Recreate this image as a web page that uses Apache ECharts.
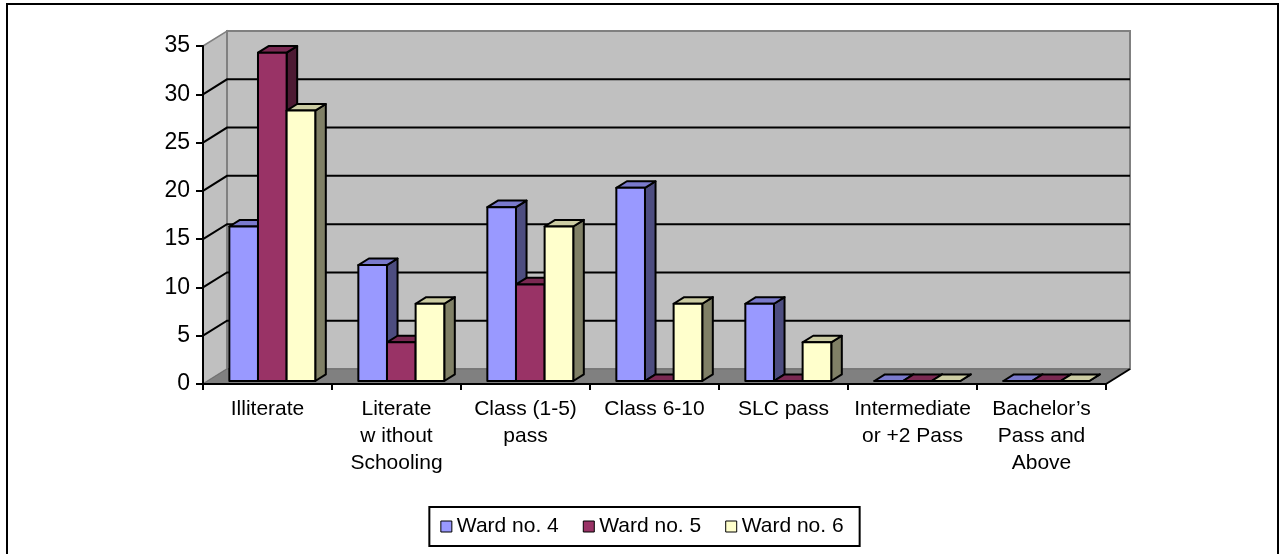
<!DOCTYPE html>
<html>
<head>
<meta charset="utf-8">
<script src="https://cdn.jsdelivr.net/npm/echarts@6/dist/echarts.min.js"></script>
<style>
  html, body { margin: 0; padding: 0; background: #fff; }
  #chart { width: 1284px; height: 554px; }
</style>
</head>
<body>
<div id="chart"></div>
<script>
// Education level by ward
const categories = [
  'Illiterate',
  'Literate\nw ithout\nSchooling',
  'Class (1-5)\npass',
  'Class 6-10',
  'SLC pass',
  'Intermediate\nor +2 Pass',
  'Bachelor\u2019s\nPass and\nAbove'
];
const seriesNames = ['Ward no. 4', 'Ward no. 5', 'Ward no. 6'];
const ward4 = [16, 12, 18, 20, 8, 0, 0];
const ward5 = [34, 4, 10, 0, 0, 0, 0];
const ward6 = [28, 8, 16, 8, 4, 0, 0];
const yMin = 0, yMax = 35, yStep = 5;

// Face colours: front, top, side
const palette = [
  { front: '#9999FF', top: '#7A7ACC', side: '#4D4D80' },
  { front: '#993366', top: '#7A2952', side: '#4D1A33' },
  { front: '#FFFFCC', top: '#CCCCA3', side: '#808066' }
];

// Depth of the 3-D box (pixels) and where bars sit inside it
const DX = 24, DY = -15;
const Z0 = 0.2, Z1 = 0.64;
const BAR_FRAC = 0.222;
const FONT = '"Liberation Sans", Arial, sans-serif';

function frameRender(params, api) {
  const cs = params.coordSys;
  const xl = cs.x, xr = cs.x + cs.width;
  const y0 = api.coord([0, yMin])[1];
  const yT = api.coord([0, yMax])[1];
  const children = [];
  // left side wall
  children.push({ type: 'polygon', shape: { points: [[xl, yT], [xl + DX, yT + DY], [xl + DX, y0 + DY], [xl, y0]] },
    style: { fill: '#C0C0C0', stroke: '#808080', lineWidth: 1.5 } });
  // back wall
  children.push({ type: 'rect', shape: { x: xl + DX, y: yT + DY, width: xr - xl, height: y0 - yT },
    style: { fill: '#C0C0C0', stroke: '#808080', lineWidth: 2 } });
  // floor
  children.push({ type: 'polygon', shape: { points: [[xl, y0], [xr, y0], [xr + DX, y0 + DY], [xl + DX, y0 + DY]] },
    style: { fill: '#808080', stroke: '#707070', lineWidth: 1 } });
  children.push({ type: 'line', shape: { x1: xr, y1: y0, x2: xr + DX, y2: y0 + DY },
    style: { stroke: '#000', lineWidth: 2 } });
  // gridlines on side wall and back wall
  for (let v = yMin + yStep; v < yMax; v += yStep) {
    const y = api.coord([0, v])[1];
    children.push({ type: 'polyline', shape: { points: [[xl, y], [xl + DX, y + DY], [xr + DX, y + DY]] },
      style: { stroke: '#000', lineWidth: 2, fill: null } });
  }
  return { type: 'group', children: children };
}

function makeBarRender(idx) {
  const c = palette[idx];
  return function (params, api) {
    const cat = api.value(0), val = api.value(1);
    const base = api.coord([cat, 0]);
    const top = api.coord([cat, val]);
    const band = api.size([1, 0])[0];
    const bw = band * BAR_FRAC;
    const x0 = base[0] - 1.5 * bw + idx * bw, x1 = x0 + bw;
    const yb = base[1], yv = top[1];
    const fx = Z0 * DX, fy = Z0 * DY, bx = Z1 * DX, by = Z1 * DY;
    const line = { stroke: '#000', lineWidth: 2, lineJoin: 'round' };
    return {
      type: 'group',
      children: [
        { type: 'polygon', shape: { points: [[x1 + fx, yv + fy], [x1 + bx, yv + by], [x1 + bx, yb + by], [x1 + fx, yb + fy]] },
          style: Object.assign({ fill: c.side }, line) },
        { type: 'polygon', shape: { points: [[x0 + fx, yv + fy], [x1 + fx, yv + fy], [x1 + bx, yv + by], [x0 + bx, yv + by]] },
          style: Object.assign({ fill: c.top }, line) },
        { type: 'rect', shape: { x: x0 + fx, y: yv + fy, width: bw, height: yb - yv },
          style: Object.assign({ fill: c.front }, line) }
      ]
    };
  };
}

const wardData = [ward4, ward5, ward6];
const series = [{
  type: 'custom',
  name: 'frame',
  renderItem: frameRender,
  data: [[0, 0]],
  silent: true,
  z: 1
}];
wardData.forEach(function (arr, i) {
  series.push({
    type: 'custom',
    name: seriesNames[i],
    renderItem: makeBarRender(i),
    itemStyle: { color: palette[i].front },
    data: arr.map(function (v, k) { return [k, v]; }),
    encode: { x: 0, y: 1 },
    z: 2 + i
  });
});

const chart = echarts.init(document.getElementById('chart'), null, { renderer: 'canvas' });
chart.setOption({
  animation: false,
  backgroundColor: '#fff',
  textStyle: { fontFamily: FONT },
  grid: { left: 203, right: 178, top: 46, bottom: 170, containLabel: false },
  xAxis: {
    type: 'category',
    data: categories,
    z: 10,
    axisLine: { lineStyle: { color: '#000', width: 2 } },
    axisTick: { show: true, length: 6, lineStyle: { color: '#000', width: 2 } },
    axisLabel: { color: '#000', fontSize: 21, lineHeight: 27, margin: 12, fontFamily: FONT, interval: 0 },
    splitLine: { show: false }
  },
  yAxis: {
    type: 'value',
    min: yMin, max: yMax, interval: yStep,
    z: 10,
    axisLine: { show: true, lineStyle: { color: '#000', width: 2 } },
    axisTick: { show: true, length: 7, lineStyle: { color: '#000', width: 2 } },
    axisLabel: { color: '#000', fontSize: 23, margin: 13, fontFamily: FONT },
    splitLine: { show: false }
  },
  legend: {
    data: seriesNames,
    left: 'center',
    top: 507,
    icon: 'rect',
    itemWidth: 11,
    itemHeight: 11,
    itemGap: 24,
    padding: [9, 16, 9, 11],
    borderColor: '#000',
    borderWidth: 2,
    itemStyle: { borderColor: '#000', borderWidth: 1 },
    textStyle: { color: '#000', fontSize: 21, fontFamily: FONT }
  },
  graphic: [{
    type: 'rect',
    silent: true,
    z: 100,
    shape: { x: 7, y: 4, width: 1271, height: 580 },
    style: { fill: null, stroke: '#000', lineWidth: 2 }
  }],
  series: series
});
</script>
</body>
</html>
